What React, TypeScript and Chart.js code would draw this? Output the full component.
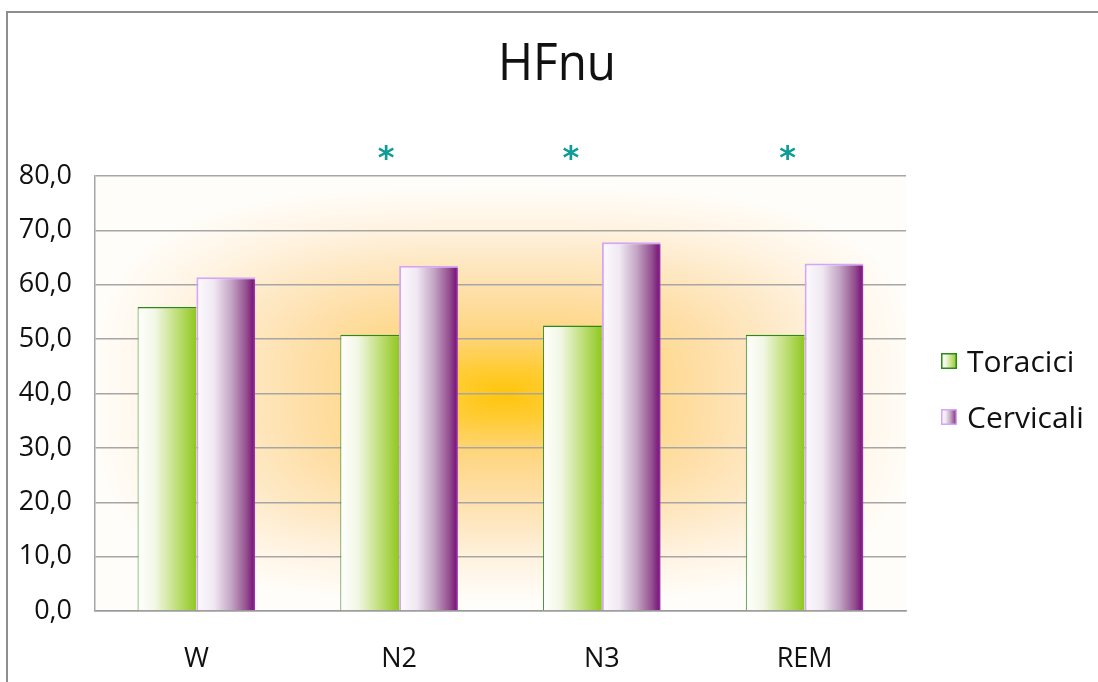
import React, { useEffect, useRef } from "react";
import { Chart, registerables } from "chart.js";

Chart.register(...registerables);

// Sleep stages and mean HFnu values per recording site
const categories = ["W", "N2", "N3", "REM"];
const seriesNames = ["Toracici", "Cervicali"];
const toracici = [55.9, 50.8, 52.5, 50.8];
const cervicali = [61.4, 63.5, 67.8, 63.9];
// Stages with a significant difference between the two sites
const significant = [false, true, true, true];
const yMin = 0;
const yMax = 80;
const yStep = 10;
const chartTitle = "HFnu";

const FONT = "'Open Sans', 'DejaVu Sans', sans-serif";
const CAT_PCT = 0.58;

type Stop = [number, string];
const greenStops: Stop[] = [
  [0, "#ffffff"],
  [0.3, "#f1f7e4"],
  [0.65, "#c3e07f"],
  [1, "#8fc81f"],
];
const purpleStops: Stop[] = [
  [0, "#fdfbff"],
  [0.3, "#f0e8f2"],
  [0.6, "#c2a3c3"],
  [0.85, "#94508f"],
  [0.96, "#7c1c7c"],
  [1, "#a73cc0"],
];

function hGradient(ctx: CanvasRenderingContext2D, x0: number, x1: number, stops: Stop[]) {
  const g = ctx.createLinearGradient(x0, 0, x1, 0);
  stops.forEach(([t, c]) => g.addColorStop(t, c));
  return g;
}

// Horizontal gradient spanning exactly one bar, located from the category scale
function barFill(stops: Stop[]) {
  return (context: any) => {
    const chart = context.chart;
    const xs = chart.scales?.x;
    if (!chart.chartArea || !xs) return stops[stops.length - 1][1];
    const center = xs.getPixelForValue(context.dataIndex);
    const catW = xs.width / categories.length;
    const group = catW * CAT_PCT;
    const barW = group / 2;
    const left = center - group / 2 + context.datasetIndex * barW;
    return hGradient(chart.ctx, left, left + barW, stops);
  };
}

// Soft golden glow behind the plot area
const glowStops: [number, number, number, number][] = [
  [0, 255, 197, 10],
  [0.12, 255, 204, 51],
  [0.3, 254, 214, 130],
  [0.5, 254, 223, 168],
  [0.7, 254, 235, 204],
  [0.85, 255, 245, 230],
  [1, 255, 252, 247],
];
let glowCache: { w: number; h: number; canvas: HTMLCanvasElement } | null = null;

function glowColor(t: number) {
  if (t >= 1) return [255, 253, 250];
  for (let i = 1; i < glowStops.length; i++) {
    const a = glowStops[i - 1];
    const b = glowStops[i];
    if (t <= b[0]) {
      const f = (t - a[0]) / (b[0] - a[0]);
      return [a[1] + (b[1] - a[1]) * f, a[2] + (b[2] - a[2]) * f, a[3] + (b[3] - a[3]) * f];
    }
  }
  return [255, 253, 250];
}

function buildGlow(w: number, h: number) {
  const c = document.createElement("canvas");
  c.width = w;
  c.height = h;
  const g = c.getContext("2d")!;
  const img = g.createImageData(w, h);
  const cx = w / 2 + 4;
  const cy = h / 2;
  const hw = w * 0.5;
  const hh = h * 0.47;
  const p = 3.2;
  for (let y = 0; y < h; y++) {
    for (let x = 0; x < w; x++) {
      const dx = Math.abs(x - cx) / hw;
      const dy = Math.abs(y - cy) / hh;
      const t = Math.pow(Math.pow(dx, p) + Math.pow(dy, p), 1 / p);
      const col = glowColor(t);
      const i = (y * w + x) * 4;
      img.data[i] = col[0];
      img.data[i + 1] = col[1];
      img.data[i + 2] = col[2];
      img.data[i + 3] = 255;
    }
  }
  g.putImageData(img, 0, 0);
  return c;
}

const glowPlugin = {
  id: "plotGlow",
  beforeDraw(chart: any) {
    const a = chart.chartArea;
    if (!a) return;
    const w = Math.round(a.right - a.left);
    const h = Math.round(a.bottom - a.top);
    if (!glowCache || glowCache.w !== w || glowCache.h !== h) {
      glowCache = { w, h, canvas: buildGlow(w, h) };
    }
    chart.ctx.drawImage(glowCache.canvas, a.left, a.top);
  },
};

// Title, significance marks and legend
const decorPlugin = {
  id: "decor",
  afterDraw(chart: any) {
    const ctx: CanvasRenderingContext2D = chart.ctx;
    const xs = chart.scales.x;
    ctx.save();

    // title
    ctx.font = `52px ${FONT}`;
    ctx.fillStyle = "#111111";
    ctx.textAlign = "center";
    ctx.textBaseline = "alphabetic";
    const tw = ctx.measureText(chartTitle).width;
    const sx = Math.min(1, 118 / tw);
    ctx.save();
    ctx.translate(557, 80);
    ctx.scale(sx, 1);
    ctx.fillText(chartTitle, 0, 0);
    ctx.restore();

    // significance asterisks above the groups
    const shift = [0, -13, -31, -17];
    ctx.font = `bold 32px 'DejaVu Sans', sans-serif`;
    ctx.fillStyle = "#0e9c95";
    ctx.textAlign = "center";
    const m = ctx.measureText("*");
    const off = (m.actualBoundingBoxAscent - m.actualBoundingBoxDescent) / 2;
    significant.forEach((s, i) => {
      if (!s) return;
      const x = xs.getPixelForValue(i) + shift[i];
      ctx.fillText("*", x, 152 + off);
    });

    // legend
    const items = [
      { label: seriesNames[0], stops: greenStops, border: "#2a8a1c", y: 353 },
      { label: seriesNames[1], stops: purpleStops, border: "#d2a6fb", y: 409 },
    ];
    ctx.font = `30px ${FONT}`;
    ctx.textAlign = "left";
    ctx.textBaseline = "alphabetic";
    items.forEach((it) => {
      const bx = 941;
      const size = 16;
      ctx.fillStyle = hGradient(ctx, bx, bx + size, it.stops);
      ctx.fillRect(bx, it.y, size, size);
      ctx.strokeStyle = it.border;
      ctx.lineWidth = 1.5;
      ctx.strokeRect(bx + 0.75, it.y + 0.75, size - 1.5, size - 1.5);
      ctx.fillStyle = "#111111";
      ctx.fillText(it.label, 967, it.y + 19);
    });

    ctx.restore();
  },
};

export default function App() {
  const canvasRef = useRef<HTMLCanvasElement | null>(null);

  useEffect(() => {
    const canvas = canvasRef.current;
    if (!canvas) return;
    const chart = new Chart(canvas, {
      type: "bar",
      data: {
        labels: categories,
        datasets: [
          {
            label: seriesNames[0],
            data: toracici,
            backgroundColor: barFill(greenStops),
            borderColor: "#2a8a1c",
            borderWidth: { left: 1, top: 1.5, right: 0, bottom: 0 },
            borderSkipped: false,
            categoryPercentage: CAT_PCT,
            barPercentage: 1,
          },
          {
            label: seriesNames[1],
            data: cervicali,
            backgroundColor: barFill(purpleStops),
            borderColor: "#d2a6fb",
            borderWidth: { left: 2, top: 2, right: 0, bottom: 0 },
            borderSkipped: false,
            categoryPercentage: CAT_PCT,
            barPercentage: 1,
          },
        ],
      },
      options: {
        responsive: false,
        animation: false,
        devicePixelRatio: 1,
        layout: { padding: { top: 176, right: 192, bottom: 0, left: 0 } },
        plugins: {
          legend: { display: false },
          title: { display: false },
          tooltip: { enabled: false },
        },
        scales: {
          x: {
            grid: { display: false, drawTicks: false },
            border: { display: true, color: "#9a9a9a", width: 1.5 },
            ticks: {
              font: { family: FONT, size: 27 },
              color: "#111111",
              padding: 32,
            },
            afterFit: (s: any) => {
              s.height = 71;
            },
          },
          y: {
            min: yMin,
            max: yMax,
            grid: { color: "#a6a6a6", lineWidth: 1.5, drawTicks: false },
            border: { display: true, color: "#a6a6a6", width: 1.5 },
            ticks: {
              stepSize: yStep,
              font: { family: FONT, size: 27 },
              color: "#111111",
              padding: 23,
              callback: (v: any) => Number(v).toFixed(1).replace(".", ","),
            },
            afterFit: (s: any) => {
              s.width = 95;
            },
          },
        },
      },
      plugins: [glowPlugin, decorPlugin],
    });
    return () => chart.destroy();
  }, []);

  return (
    <div
      style={{
        position: "fixed",
        left: 0,
        top: 0,
        width: 1098,
        height: 682,
        overflow: "hidden",
        background: "#ffffff",
      }}
    >
      <div
        style={{
          position: "absolute",
          left: 6,
          top: 11,
          width: 1200,
          height: 800,
          border: "2px solid #8e8e8e",
        }}
      />
      <canvas
        ref={canvasRef}
        width={1098}
        height={682}
        style={{ position: "absolute", left: 0, top: 0, display: "block" }}
      />
    </div>
  );
}
